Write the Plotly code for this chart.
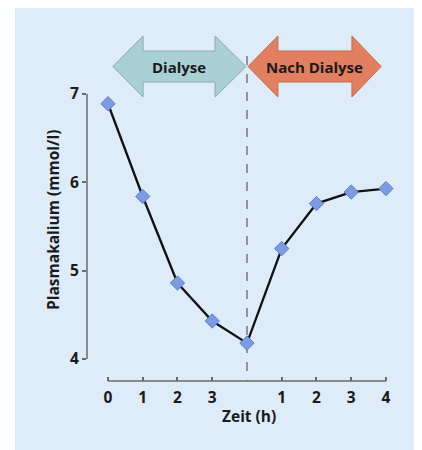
import plotly.graph_objects as go

# Data
x_pos = [0, 1, 2, 3, 4, 5, 6, 7, 8]
kalium = [6.89, 5.84, 4.86, 4.43, 4.18, 5.25, 5.76, 5.89, 5.93]
tick_vals = [0, 1, 2, 3, 5, 6, 7, 8]
tick_text = ["0", "1", "2", "3", "1", "2", "3", "4"]
y_ticks = [4, 5, 6, 7]
phase_labels = ["Dialyse", "Nach Dialyse"]

BG = "#deebf8"
FONT = "Open Sans"
TXT = "#1a1a1a"
AX = "#6b6b6b"

ML, MR, MT, MB = 79, 34, 22, 77
PW, PH = 422 - ML - MR, 450 - MT - MB

fig = go.Figure()
fig.add_trace(go.Scatter(
    x=x_pos, y=kalium, mode="lines+markers",
    line=dict(color="#111111", width=2.3),
    marker=dict(symbol="diamond", size=11, color="#7b9ce2",
                line=dict(color="#5d7fcc", width=1)),
    showlegend=False, cliponaxis=False,
))


def double_arrow(x0, x1, hx0, hx1, yb, ys0, ys1, yt):
    ym = (yb + yt) / 2
    return (f"M {x0} {ym} L {hx0} {yt} L {hx0} {ys1} L {hx1} {ys1} L {hx1} {yt} "
            f"L {x1} {ym} L {hx1} {yb} L {hx1} {ys0} L {hx0} {ys0} L {hx0} {yb} Z")


shapes = []
# panel background
shapes.append(dict(type="rect", xref="paper", yref="paper",
                   x0=(7 - ML) / PW, x1=(422 - ML) / PW,
                   y0=-MB / PH, y1=(PH + MT) / PH,
                   fillcolor=BG, line=dict(width=0), layer="below"))
# arrows
shapes.append(dict(type="path", xref="x", yref="y",
                   path=double_arrow(0.14, 3.97, 1.01, 3.08, 6.966, 7.136, 7.487, 7.657),
                   fillcolor="#a9d0d4", line=dict(color="#8fa9ad", width=1)))
shapes.append(dict(type="path", xref="x", yref="y",
                   path=double_arrow(4.03, 7.86, 4.89, 7.02, 6.966, 7.136, 7.487, 7.657),
                   fillcolor="#e17f60", line=dict(color="#c86a4b", width=1)))
# dashed divider
shapes.append(dict(type="line", xref="x", yref="y", x0=4, x1=4, y0=3.66, y1=7.44,
                   line=dict(color="#777777", width=1.5, dash="dash"), layer="below"))
# axis lines
shapes.append(dict(type="line", xref="paper", yref="y", x0=0, x1=0, y0=4, y1=7,
                   line=dict(color=AX, width=1.5)))
shapes.append(dict(type="line", xref="x", yref="paper", x0=0, x1=8, y0=0, y1=0,
                   line=dict(color=AX, width=1.5)))

annotations = [
    dict(x=2.05, y=7.31, xref="x", yref="y", text=phase_labels[0], showarrow=False,
         font=dict(family=FONT, size=15, color=TXT, weight="bold")),
    dict(x=5.95, y=7.31, xref="x", yref="y", text=phase_labels[1], showarrow=False,
         font=dict(family=FONT, size=15, color=TXT, weight="bold")),
    dict(x=0, y=5.574, xref="paper", yref="y", xshift=-34, xanchor="center",
         yanchor="middle", text="Plasmakalium (mmol/l)",
         textangle=-90, showarrow=False,
         font=dict(family=FONT, size=15.5, color=TXT, weight="bold")),
    dict(x=4.06, y=0, xref="x", yref="paper", yshift=-35, xanchor="center",
         yanchor="middle", text="Zeit (h)", showarrow=False,
         font=dict(family=FONT, size=15.5, color=TXT, weight="bold")),
]

fig.update_layout(
    width=422, height=450,
    paper_bgcolor="white", plot_bgcolor=BG,
    margin=dict(l=ML, r=MR, t=MT, b=MB, pad=0),
    shapes=shapes, annotations=annotations,
    xaxis=dict(range=[-0.604, -0.604 + PW / 34.75], tickvals=tick_vals, ticktext=tick_text,
               ticks="inside", ticklen=4, tickwidth=1.5, tickcolor=AX,
               ticklabelstandoff=5,
               showgrid=False, zeroline=False, showline=False,
               tickfont=dict(family=FONT, size=15.5, color=TXT, weight="bold")),
    yaxis=dict(range=[3.751, 3.751 + PH / 88.33], tickvals=y_ticks,
               ticks="outside", ticklen=4, tickwidth=1.5, tickcolor=AX,
               showgrid=False, zeroline=False, showline=False,
               tickfont=dict(family=FONT, size=15.5, color=TXT, weight="bold")),
)

fig.write_html("out.html")
